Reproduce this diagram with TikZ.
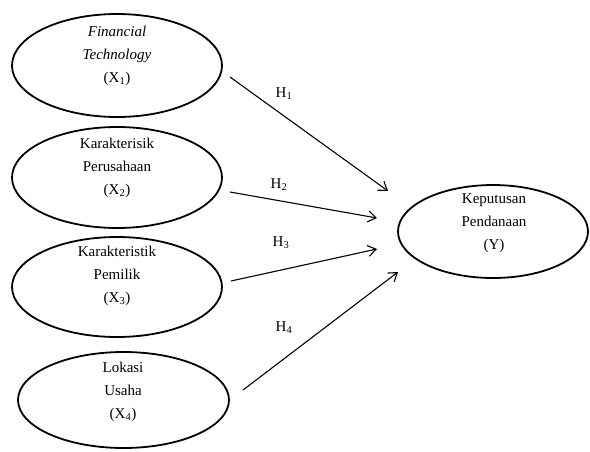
\documentclass[tikz,border=0pt]{standalone}
\usepackage{fontspec}
\setmainfont{Liberation Serif}
\usetikzlibrary{shapes.geometric,arrows.meta}
\begin{document}
\begin{tikzpicture}[x=1pt,y=-1pt,
  ell/.style={draw, line width=1.8pt, ellipse, inner sep=0pt},
  txt/.style={align=center, font=\fontsize{15}{23}\selectfont, inner sep=0pt},
  arr/.style={line width=1.1pt, -{Straight Barb[length=8pt,width=11pt]}},
  hl/.style={font=\fontsize{15}{18}\selectfont, inner sep=0pt}]
\useasboundingbox (0,0) rectangle (590,451);
% ellipses
\node[ell, minimum width=210pt, minimum height=103pt] (e1) at (117,65.5) {};
\node[ell, minimum width=210pt, minimum height=101pt] (e2) at (117,177.5) {};
\node[ell, minimum width=210pt, minimum height=100pt] (e3) at (117,287) {};
\node[ell, minimum width=211pt, minimum height=96pt] (e4) at (123.5,400) {};
\node[ell, minimum width=190pt, minimum height=93pt] (ey) at (493,231.5) {};
% texts
\node[txt] (t1) at (117,56) {\textit{Financial}\\\textit{Technology}\\(X\textsubscript{1})};
\node[txt] (t2) at (117,168) {Karakterisik\\Perusahaan\\(X\textsubscript{2})};
\node[txt] (t3) at (117,276) {Karakteristik\\Pemilik\\(X\textsubscript{3})};
\node[txt] (t4) at (123,392) {Lokasi\\Usaha\\(X\textsubscript{4})};
\node[txt] (ty) at (494,223) {Keputusan\\Pendanaan\\(Y)};
% connector end points
\coordinate (s1) at (230,77);
\coordinate (d1) at (388,191);
\coordinate (s2) at (230,192);
\coordinate (d2) at (377,218);
\coordinate (s3) at (231,281);
\coordinate (d3) at (377,249);
\coordinate (s4) at (243,390);
\coordinate (d4) at (398,272);
\draw[arr] (s1) -- (d1);
\draw[arr] (s2) -- (d2);
\draw[arr] (s3) -- (d3);
\draw[arr] (s4) -- (d4);
% labels
\node[hl] (h1) at (284,94) {H\textsubscript{1}};
\node[hl] (h2) at (279,185) {H\textsubscript{2}};
\node[hl] (h3) at (281,243) {H\textsubscript{3}};
\node[hl] (h4) at (284,328) {H\textsubscript{4}};
\end{tikzpicture}
\end{document}
